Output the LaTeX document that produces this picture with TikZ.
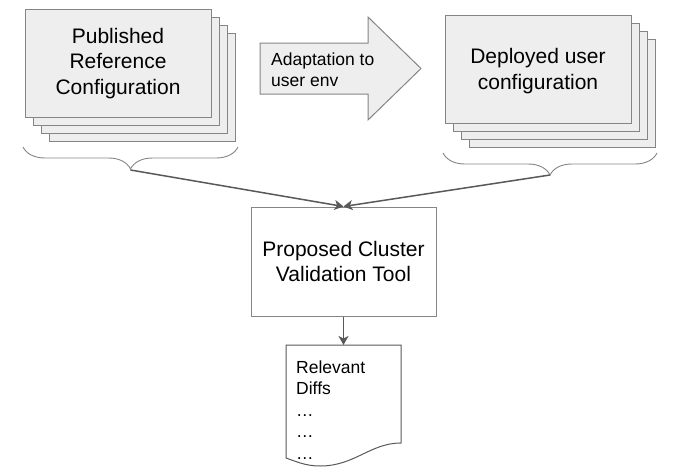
\documentclass[tikz,border=0pt]{standalone}
\usepackage{fontspec}
\setmainfont{Liberation Sans}
\usetikzlibrary{arrows.meta}
\usetikzlibrary{decorations.pathreplacing}
\definecolor{sheetfill}{HTML}{EEEEEE}
\definecolor{edgegray}{HTML}{858585}
\definecolor{arrowgray}{HTML}{595959}

\tikzset{
  sheet/.style={draw=edgegray, fill=sheetfill, line width=1pt, minimum width=186pt, minimum height=108pt, inner sep=0pt},
  bigtext/.style={font=\fontsize{21}{25.5}\selectfont, align=center},
  smalltext/.style={font=\fontsize{17.5}{21.5}\selectfont, align=left, inner sep=0pt},
  flow/.style={->, draw=arrowgray, line width=1.5pt},
  curly/.style={draw=edgegray, line width=0.9pt, decorate, decoration={brace, mirror, amplitude=22pt}}
}

\begin{document}
\begin{tikzpicture}[x=1pt, y=-1pt, >={Stealth[length=9pt, width=10pt, inset=2.5pt]}]
  \useasboundingbox (0,0) rectangle (674,471);

  % Draw the stack of published sheets
  \foreach \i in {3,2,1,0} {
    \node[sheet] (pub\i) at ({118+8*\i},{63.5+8*\i}) {};
  }
  \node[bigtext] (pubtext) at (pub0) {Published\\Reference\\Configuration};

  % Draw the stack of deployed sheets
  \foreach \i in {3,2,1,0} {
    \node[sheet] (dep\i) at ({538+8*\i},{69+8*\i}) {};
  }
  \node[bigtext] (deptext) at ([yshift=-2pt]dep0) {Deployed user\\configuration};

  % Draw the block arrow between the stacks
  \draw[draw=edgegray, fill=sheetfill, line width=1pt]
    (260,43) -- (368,43) -- (368,17) -- (421,68.5) -- (368,120) -- (368,94) -- (260,94) -- cycle;
  \node[smalltext, anchor=west] (adapt) at (271,69.5) {Adaptation to\\user env};

  % Draw the braces under the stacks
  \draw[curly] (23,147) -- (238,147);
  \coordinate (pubtip) at (130.5,170);
  \draw[curly] (443,153) -- (657,153);
  \coordinate (deptip) at (550,175);

  % Draw the tool box
  \node[draw=edgegray, line width=1pt, minimum width=185pt, minimum height=109pt, bigtext] (tool) at (343.5,261.5) {Proposed Cluster\\Validation Tool};

  % Draw the document with the diffs
  \draw[draw=arrowgray, line width=1pt, fill=white]
    (286,345) -- (401,345) -- (401,443)
    .. controls (370,443) and (355,466) .. (320,466)
    .. controls (305,466) and (295,461) .. (286,458) -- cycle;
  \coordinate (doctop) at (343.5,345);
  \node[smalltext, anchor=base west] (diffs) at (296,459) {Relevant\\Diffs\\…\\…\\…};

  % Draw the connectors
  \draw[flow] (pubtip) -- (tool.north);
  \draw[flow] (deptip) -- (tool.north);
  \draw[flow] (tool.south) -- (doctop);
\end{tikzpicture}
\end{document}
